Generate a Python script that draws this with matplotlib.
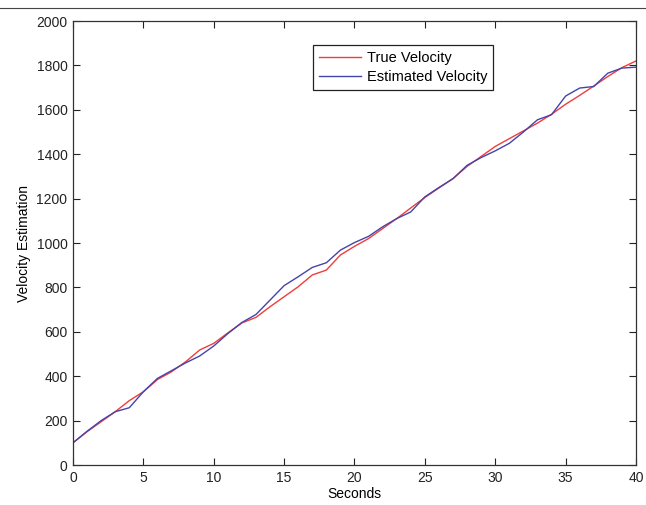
import matplotlib
matplotlib.use("Agg")
import matplotlib.pyplot as plt
import numpy as np

# time axis (seconds)
seconds = list(range(0, 41))

# true velocity
true_velocity = [100, 150, 195, 240, 290, 330, 385, 420, 465, 518,
                 548, 595, 640, 665, 713, 758, 803, 856, 878, 946,
                 985, 1020, 1065, 1110, 1158, 1205, 1248, 1290, 1345, 1390,
                 1435, 1470, 1505, 1540, 1580, 1625, 1665, 1707, 1750, 1790,
                 1820]

# estimated velocity
est_velocity = [100, 152, 200, 240, 258, 330, 390, 425, 460, 491,
                536, 592, 642, 678, 743, 808, 848, 890, 911, 968,
                1002, 1030, 1073, 1110, 1140, 1208, 1250, 1290, 1350, 1385,
                1415, 1449, 1500, 1555, 1578, 1662, 1698, 1705, 1765, 1788,
                1792]

xticks = [0, 5, 10, 15, 20, 25, 30, 35, 40]
yticks = list(range(0, 2001, 200))

plt.rcParams['font.family'] = ['Liberation Sans', 'DejaVu Sans']

fig = plt.figure(figsize=(6.46, 5.05), dpi=100)
ax = fig.add_axes([0.113, 0.0792, 0.8715, 0.8792])

ax.plot(seconds, true_velocity, color='#f03c3c', lw=1.0, label='True Velocity')
ax.plot(seconds, est_velocity, color='#4444aa', lw=1.0, label='Estimated Velocity')

ax.set_xlim(0, 40)
ax.set_ylim(0, 2000)
ax.set_xticks(xticks)
ax.set_yticks(yticks)
ax.tick_params(direction='in', top=True, right=True, length=5, width=0.8,
               labelsize=10, colors='#222222', pad=4)
for s in ax.spines.values():
    s.set_linewidth(0.9)
    s.set_color('#333333')

ax.set_xlabel('Seconds', fontsize=10, labelpad=2)
ax.set_ylabel('Velocity Estimation', fontsize=10, labelpad=4)

leg = ax.legend(loc='upper left', bbox_to_anchor=(0.426, 0.946), borderaxespad=0,
                fancybox=False, framealpha=1, edgecolor='#222222', fontsize=10.5,
                handlelength=2.9, labelspacing=0.35, borderpad=0.4, handletextpad=0.4)
leg.get_frame().set_linewidth(0.9)

# thin frame line at the top of the screenshot
fig.add_artist(plt.Line2D([0, 1], [1 - 8 / 505, 1 - 8 / 505], color='#444444', lw=0.8))

fig.savefig('out.png', dpi=100)
